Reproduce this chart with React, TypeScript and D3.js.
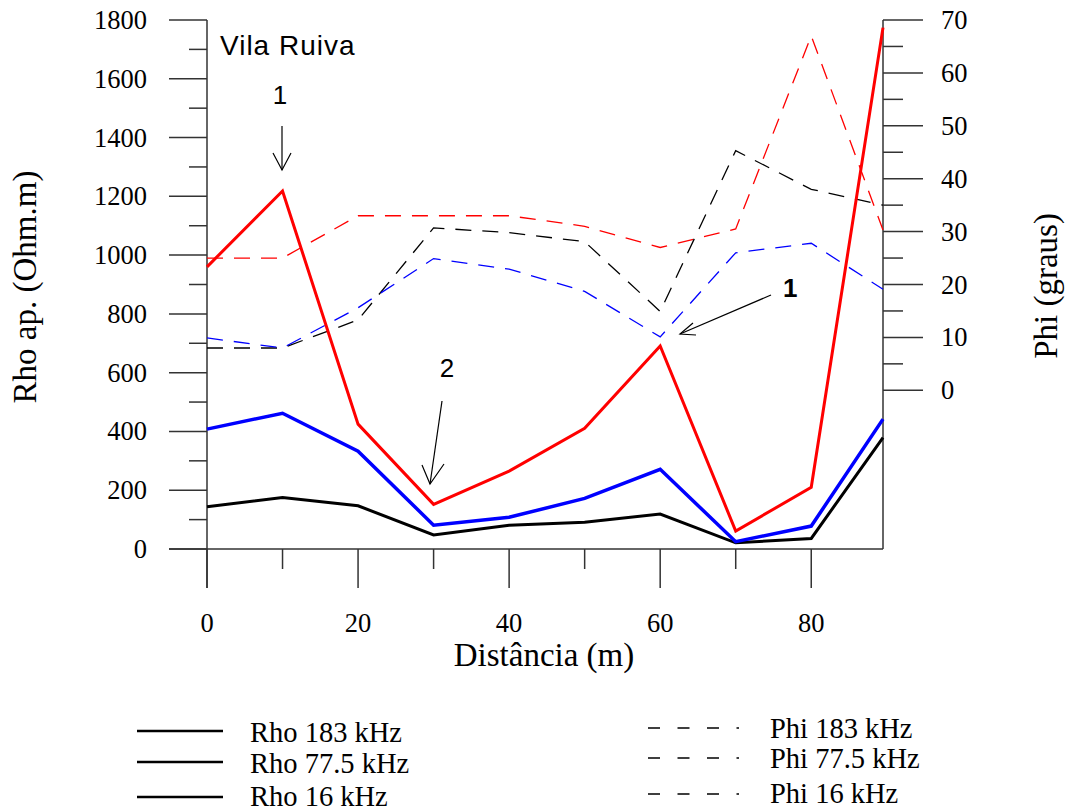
import React from "react";
import * as d3 from "d3";

const distance = [0, 10, 20, 30, 40, 50, 60, 70, 80, 89.5];
const rhoRed = [960, 1218, 425, 152, 265, 411, 691, 61, 210, 1774];
const rhoBlue = [408, 462, 333, 81, 108, 172, 271, 25, 78, 442];
const rhoBlack = [144, 175, 147, 48, 81, 91, 119, 21, 36, 379];
const phiRed = [25, 25, 33, 33, 33, 31, 27, 30.5, 67, 30.3];
const phiBlack = [8, 8, 13.3, 30.7, 29.8, 28.1, 14.9, 45.3, 38, 35];
const phiBlue = [9.9, 8, 15.6, 24.9, 22.9, 18.7, 10.1, 26, 27.8, 19.1];

const rhoTicks = [0, 200, 400, 600, 800, 1000, 1200, 1400, 1600, 1800];
const rhoMinor = [100, 300, 500, 700, 900, 1100, 1300, 1500, 1700];
const phiTicks = [0, 10, 20, 30, 40, 50, 60, 70];
const phiMinor = [5, 15, 25, 35, 45, 55, 65];
const xTicks = [0, 20, 40, 60, 80];
const xMinor = [10, 30, 50, 70];

const legendRho = ["Rho 183 kHz", "Rho 77.5 kHz", "Rho 16 kHz"];
const legendPhi = ["Phi 183 kHz", "Phi 77.5 kHz", "Phi 16 kHz"];

const SERIF = "'Liberation Serif', 'Times New Roman', serif";
const SANS = "'Liberation Sans', Arial, sans-serif";

export default function App() {
  const x = d3.scaleLinear().domain([0, 89.5]).range([207, 883]);
  const yR = d3.scaleLinear().domain([0, 1800]).range([549, 20]);
  const yP = d3.scaleLinear().domain([-30, 70]).range([549, 20]);

  const lineR = d3
    .line<number>()
    .x((_, i) => x(distance[i]))
    .y((v) => yR(v));
  const lineP = d3
    .line<number>()
    .x((_, i) => x(distance[i]))
    .y((v) => yP(v));

  const axisColor = "#333";
  const left = x(0);
  const right = x(89.5);
  const bottom = yR(0);

  const solid = [
    { data: rhoBlack, color: "#000", w: 3 },
    { data: rhoBlue, color: "#0000ff", w: 3.5 },
    { data: rhoRed, color: "#ff0000", w: 3 },
  ];
  const dashed = [
    { data: phiRed, color: "#ff0000" },
    { data: phiBlack, color: "#000" },
    { data: phiBlue, color: "#0000ff" },
  ];

  const legRhoY = [731, 762, 797];
  const legRhoText = [742, 773, 806];
  const legPhiY = [728, 758, 794];
  const legPhiText = [738, 768, 803];

  return (
    <svg
      width={1072}
      height={810}
      style={{ position: "absolute", left: 0, top: 0, background: "#fff" }}
    >
      <rect x={0} y={0} width={1072} height={810} fill="#fff" />
      {/* axes lines */}
      <line x1={left} y1={20} x2={left} y2={588} stroke={axisColor} strokeWidth={1.5} />
      <line x1={right} y1={20} x2={right} y2={bottom} stroke={axisColor} strokeWidth={1.5} />
      <line x1={169} y1={bottom} x2={right} y2={bottom} stroke={axisColor} strokeWidth={1.5} />

      {/* left ticks */}
      {rhoTicks.map((t) => (
        <g key={"rt" + t}>
          <line x1={169} x2={left} y1={yR(t)} y2={yR(t)} stroke={axisColor} strokeWidth={1.5} />
          <text x={147} y={yR(t) + 9} textAnchor="end" fontFamily={SERIF} fontSize={26.5}>
            {t}
          </text>
        </g>
      ))}
      {rhoMinor.map((t) => (
        <line key={"rm" + t} x1={189} x2={left} y1={yR(t)} y2={yR(t)} stroke={axisColor} strokeWidth={1.5} />
      ))}

      {/* right ticks */}
      {phiTicks.map((t) => (
        <g key={"pt" + t}>
          <line x1={right} x2={923} y1={yP(t)} y2={yP(t)} stroke={axisColor} strokeWidth={1.5} />
          <text x={941} y={yP(t) + 9} textAnchor="start" fontFamily={SERIF} fontSize={26.5}>
            {t}
          </text>
        </g>
      ))}
      {phiMinor.map((t) => (
        <line key={"pm" + t} x1={right} x2={903} y1={yP(t)} y2={yP(t)} stroke={axisColor} strokeWidth={1.5} />
      ))}

      {/* x ticks */}
      {xTicks.map((t) => (
        <g key={"xt" + t}>
          <line x1={x(t)} x2={x(t)} y1={bottom} y2={588} stroke={axisColor} strokeWidth={1.5} />
          <text x={x(t)} y={632} textAnchor="middle" fontFamily={SERIF} fontSize={26.5}>
            {t}
          </text>
        </g>
      ))}
      {xMinor.map((t) => (
        <line key={"xm" + t} x1={x(t)} x2={x(t)} y1={bottom} y2={569} stroke={axisColor} strokeWidth={1.5} />
      ))}

      {/* axis titles */}
      <text
        transform="translate(36,287) rotate(-90)"
        textAnchor="middle"
        fontFamily={SERIF}
        fontSize={33}
      >
        Rho ap. (Ohm.m)
      </text>
      <text
        transform="translate(1057,286) rotate(-90)"
        textAnchor="middle"
        fontFamily={SERIF}
        fontSize={33}
      >
        Phi (graus)
      </text>
      <text x={544} y={666} textAnchor="middle" fontFamily={SERIF} fontSize={33}>
        Distância (m)
      </text>

      {/* dashed phi lines */}
      {dashed.map((s, i) => (
        <path
          key={"d" + i}
          d={lineP(s.data) || ""}
          fill="none"
          stroke={s.color}
          strokeWidth={1.3}
          strokeDasharray="16 11"
        />
      ))}
      {/* solid rho lines */}
      {solid.map((s, i) => (
        <path
          key={"s" + i}
          d={lineR(s.data) || ""}
          fill="none"
          stroke={s.color}
          strokeWidth={s.w}
          strokeLinejoin="miter"
        />
      ))}

      {/* annotations */}
      <text x={220} y={55} fontFamily={SANS} fontSize={28} letterSpacing={1}>
        Vila Ruiva
      </text>
      <text x={280} y={104} textAnchor="middle" fontFamily={SANS} fontSize={26} fontWeight={300}>
        1
      </text>
      <g stroke="#000" strokeWidth={1.2} fill="none">
        <line x1={282} y1={126} x2={282} y2={170} />
        <polyline points="273,153 282,170 291,153" />
      </g>
      <text x={447} y={377} textAnchor="middle" fontFamily={SANS} fontSize={26}>
        2
      </text>
      <g stroke="#000" strokeWidth={1.2} fill="none">
        <line x1={442} y1={401} x2={430} y2={484} />
        <polyline points="422,465 430,484 444,464" />
      </g>
      <text x={783} y={297} fontFamily={SANS} fontSize={26} fontWeight="bold">
        1
      </text>
      <g stroke="#000" strokeWidth={1.2} fill="none">
        <line x1={771} y1={295} x2={680} y2={334} />
        <polyline points="693,323 680,334 696,335" />
      </g>

      {/* legend */}
      {legendRho.map((t, i) => (
        <g key={"lr" + i}>
          <line x1={137} x2={223} y1={legRhoY[i]} y2={legRhoY[i]} stroke="#000" strokeWidth={2.5} />
          <text x={250} y={legRhoText[i]} fontFamily={SERIF} fontSize={28.5}>
            {t}
          </text>
        </g>
      ))}
      {legendPhi.map((t, i) => (
        <g key={"lp" + i}>
          <line
            x1={648}
            x2={739}
            y1={legPhiY[i]}
            y2={legPhiY[i]}
            stroke="#000"
            strokeWidth={1.3}
            strokeDasharray="12 17.5"
          />
          <text x={770} y={legPhiText[i]} fontFamily={SERIF} fontSize={28.5}>
            {t}
          </text>
        </g>
      ))}
    </svg>
  );
}
